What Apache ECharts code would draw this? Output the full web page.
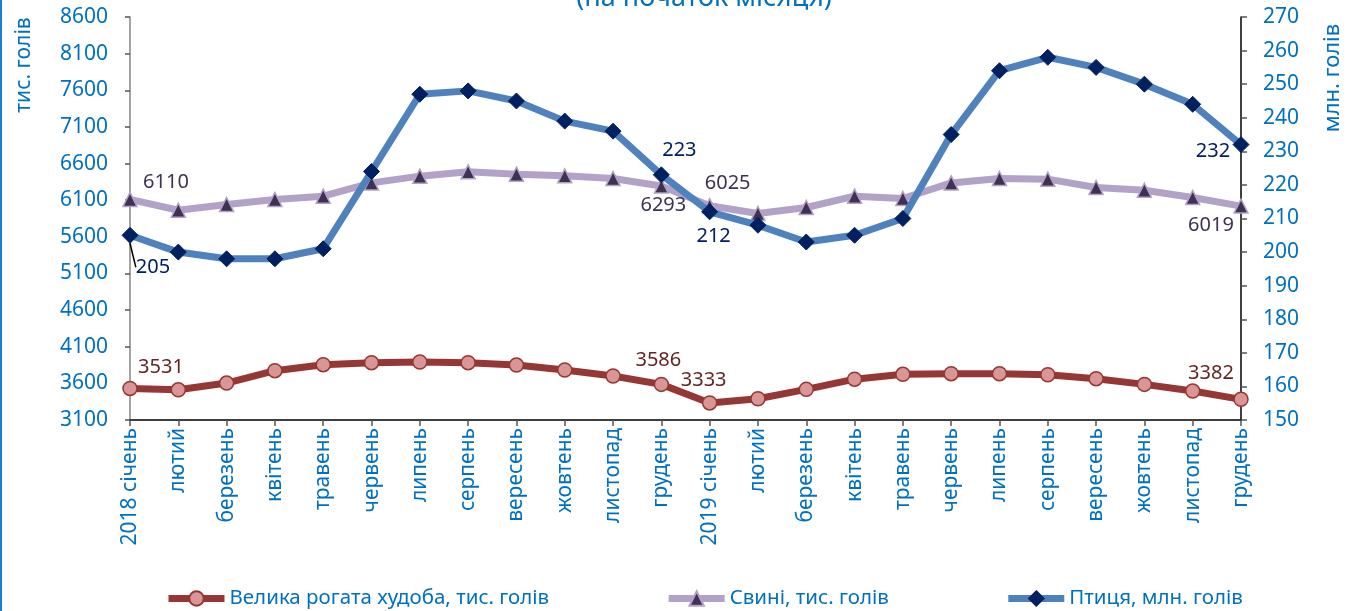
<!DOCTYPE html>
<html>
<head>
<meta charset="utf-8">
<script src="https://cdn.jsdelivr.net/npm/echarts@6/dist/echarts.min.js"></script>
<style>
  html, body { margin: 0; padding: 0; background: #fff; }
  #chart { width: 1348px; height: 611px; }
</style>
</head>
<body>
<div id="chart"></div>
<script>
// місяці 2018–2019
const months = [
  '2018 січень', 'лютий', 'березень', 'квітень', 'травень', 'червень',
  'липень', 'серпень', 'вересень', 'жовтень', 'листопад', 'грудень',
  '2019 січень', 'лютий', 'березень', 'квітень', 'травень', 'червень',
  'липень', 'серпень', 'вересень', 'жовтень', 'листопад', 'грудень'
];

// тис. голів
const cattle = [3531, 3512, 3604, 3773, 3855, 3882, 3891, 3882, 3850, 3782, 3700, 3586,
                3333, 3390, 3518, 3657, 3723, 3732, 3732, 3718, 3664, 3586, 3495, 3382];
const pigs = [6110, 5963, 6041, 6109, 6155, 6336, 6428, 6487, 6455, 6432, 6396, 6293,
              6025, 5918, 6000, 6155, 6123, 6336, 6396, 6387, 6273, 6236, 6136, 6019];
// млн. голів
const poultry = [205, 200, 198, 198, 201, 224, 247, 248, 245, 239, 236, 223,
                 212, 208, 203, 205, 210, 235, 254, 258, 255, 250, 244, 232];

const leftTicks = { min: 3100, max: 8600, step: 500 };
const rightTicks = { min: 150, max: 270, step: 10 };

// точки з підписами (індекс місяця)
const labelled = [0, 11, 12, 23];

const FONT = "'Noto Sans', sans-serif";
const BLUE = '#0070c0';

// зсув підпису від центру маркера
const labelShift = {
  cattle:  { 0: [31, -21], 11: [-3, -24], 12: [-6, -23], 23: [-30, -26] },
  pigs:    { 0: [36, -17], 11: [2, 19], 12: [18, -22], 23: [-30, 19] },
  poultry: { 0: [23, 32], 11: [18, -25], 12: [4, 25], 23: [-28, 7] },
};

const withLabels = (values, color, guideAt) => values.map((v, i) => {
  if (!labelled.includes(i)) return v;
  return {
    value: v,
    label: { show: true, position: 'inside', color, fontSize: 20, fontFamily: FONT },
    labelLine: { show: i === guideAt, lineStyle: { color: '#000', width: 1.5 } },
  };
});

const shiftLayout = key => params => {
  const s = labelShift[key][params.dataIndex];
  return s ? { dx: s[0], dy: s[1] } : {};
};

const chart = echarts.init(document.getElementById('chart'));

chart.setOption({
  animation: false,
  textStyle: { fontFamily: FONT },
  grid: { left: 130, right: 107, top: 17, bottom: 191 },
  graphic: [
    {
      type: 'rect', left: 0, top: 0,
      shape: { width: 2, height: 611 },
      style: { fill: '#1a7fd0' }, silent: true,
    },
    {
      type: 'text', x: 704, y: -2,
      style: { text: '(на початок місяця)', fill: BLUE, font: `27px ${FONT}`,
               textAlign: 'center', textVerticalAlign: 'middle' },
      silent: true,
    },
    {
      type: 'text', x: 24, y: 65, rotation: Math.PI / 2,
      style: { text: 'тис. голів', fill: BLUE, font: `21px ${FONT}`,
               textAlign: 'center', textVerticalAlign: 'middle' },
      silent: true,
    },
    {
      type: 'text', x: 1333, y: 78, rotation: Math.PI / 2,
      style: { text: 'млн. голів', fill: BLUE, font: `22px ${FONT}`,
               textAlign: 'center', textVerticalAlign: 'middle' },
      silent: true,
    },
  ],
  legend: {
    left: 165, top: 588, padding: 0,
    itemWidth: 56, itemHeight: 18, itemGap: 116,
    lineStyle: { width: 7 },
    textStyle: { color: BLUE, fontSize: 20.5, fontFamily: FONT },
    data: ['Велика рогата худоба, тис. голів', 'Свині, тис. голів', 'Птиця, млн. голів'],
  },
  xAxis: {
    type: 'category',
    data: months,
    boundaryGap: false,
    axisLine: { lineStyle: { color: '#000', width: 1.5 } },
    axisTick: { show: true, length: 6, lineStyle: { color: '#555', width: 1.5 } },
    axisLabel: { rotate: 90, color: BLUE, fontSize: 21, fontFamily: FONT, margin: 8, interval: 0 },
    splitLine: { show: false },
  },
  yAxis: [
    {
      type: 'value',
      min: leftTicks.min, max: leftTicks.max, interval: leftTicks.step,
      axisLine: { show: true, lineStyle: { color: '#868686', width: 1.5 } },
      axisTick: { show: true, length: 5, lineStyle: { color: '#555', width: 1.5 } },
      axisLabel: { color: BLUE, fontSize: 21, fontFamily: FONT, margin: 22, formatter: v => String(v) },
      splitLine: { show: false },
    },
    {
      type: 'value',
      min: rightTicks.min, max: rightTicks.max, interval: rightTicks.step,
      position: 'right',
      axisLine: { show: true, lineStyle: { color: '#000', width: 1.5 } },
      axisTick: { show: true, length: 6, lineStyle: { color: '#555', width: 1.5 } },
      axisLabel: { color: BLUE, fontSize: 21, fontFamily: FONT, margin: 22 },
      splitLine: { show: false },
    },
  ],
  series: [
    {
      name: 'Велика рогата худоба, тис. голів',
      type: 'line',
      yAxisIndex: 0,
      data: withLabels(cattle, '#632523', -1),
      symbol: 'circle', symbolSize: 14,
      lineStyle: { color: '#953735', width: 7 },
      itemStyle: { color: '#d99694', borderColor: '#953735', borderWidth: 1.5 },
      labelLayout: shiftLayout('cattle'),
      z: 2,
    },
    {
      name: 'Свині, тис. голів',
      type: 'line',
      yAxisIndex: 0,
      data: withLabels(pigs, '#3f3151', -1),
      symbol: 'triangle', symbolSize: 14,
      lineStyle: { color: '#b3a2c7', width: 7 },
      itemStyle: { color: '#3f3151', borderColor: '#b3a2c7', borderWidth: 1.5 },
      labelLayout: shiftLayout('pigs'),
      z: 3,
    },
    {
      name: 'Птиця, млн. голів',
      type: 'line',
      yAxisIndex: 1,
      data: withLabels(poultry, '#002060', 0),
      symbol: 'diamond', symbolSize: 16,
      lineStyle: { color: '#4f81bd', width: 7 },
      itemStyle: { color: '#002060', borderColor: '#002060', borderWidth: 1 },
      labelLayout: shiftLayout('poultry'),
      z: 4,
    },
  ],
});
</script>
</body>
</html>
